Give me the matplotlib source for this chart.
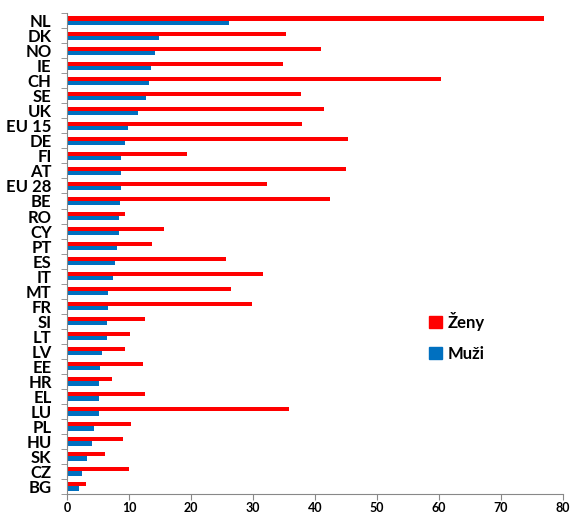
import numpy as np
import matplotlib
matplotlib.use('Agg')
import matplotlib.pyplot as plt
from matplotlib.patches import Patch

plt.rcParams['font.family'] = ['Lato', 'DejaVu Sans']

countries = ['NL', 'DK', 'NO', 'IE', 'CH', 'SE', 'UK', 'EU 15', 'DE', 'FI', 'AT', 'EU 28',
             'BE', 'RO', 'CY', 'PT', 'ES', 'IT', 'MT', 'FR', 'SI', 'LT', 'LV', 'EE',
             'HR', 'EL', 'LU', 'PL', 'HU', 'SK', 'CZ', 'BG']
zeny = [76.9, 35.3, 41.0, 34.9, 60.3, 37.7, 41.5, 38.0, 45.3, 19.3, 45.0, 32.2,
        42.4, 9.3, 15.6, 13.8, 25.6, 31.7, 26.4, 29.9, 12.6, 10.1, 9.4, 12.3,
        7.3, 12.6, 35.9, 10.3, 9.0, 6.2, 10.0, 3.0]
muzi = [26.2, 14.8, 14.2, 13.5, 13.3, 12.8, 11.4, 9.8, 9.4, 8.8, 8.8, 8.8,
        8.6, 8.4, 8.4, 8.0, 7.7, 7.4, 6.7, 6.7, 6.5, 6.4, 5.7, 5.4,
        5.2, 5.2, 5.1, 4.4, 4.0, 3.2, 2.5, 1.9]

red = '#FF0000'
blue = '#0070C0'

fig = plt.figure(figsize=(5.72, 5.17), dpi=100)
ax = fig.add_axes([0.117, 0.0445, 0.867, 0.93])

y = np.arange(len(countries))
h = 0.28
ax.barh(y - h / 2, zeny, height=h, color=red, label='Ženy')
ax.barh(y + h / 2, muzi, height=h, color=blue, label='Muži')

ax.set_ylim(len(countries) - 0.5, -0.5)
ax.set_xlim(0, 80)
ax.set_xticks(range(0, 81, 10))

ax.set_yticks(y)
ax.set_yticklabels(countries, fontsize=12, fontweight='bold')
ax.set_yticks(np.arange(-0.5, len(countries), 1), minor=True)
ax.tick_params(axis='y', which='major', length=0, pad=11)
ax.tick_params(axis='y', which='minor', length=4, color='#888888')
ax.tick_params(axis='x', length=4, color='#888888', labelsize=9, pad=2)
for lab in ax.get_xticklabels():
    lab.set_fontweight('bold')

for s in ['top', 'right']:
    ax.spines[s].set_visible(False)
for s in ['left', 'bottom']:
    ax.spines[s].set_color('#888888')

handles = [Patch(color=red, label='Ženy'), Patch(color=blue, label='Muži')]
ax.legend(handles=handles, loc='upper left', bbox_to_anchor=(0.7, 0.41), frameon=False,
          prop={'weight': 'bold', 'size': 12}, handlelength=0.8, handleheight=0.8,
          handletextpad=0.3, labelspacing=0.9)

fig.savefig('out.png', dpi=100)
